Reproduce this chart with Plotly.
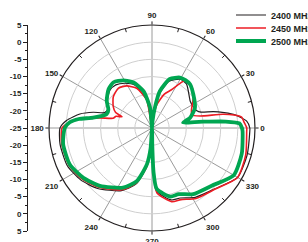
import plotly.graph_objects as go

# ---- data (dB vs angle, degrees) ----
theta_2400 = [0, 4, 9, 12, 15, 18, 21, 28, 35, 45, 52, 60, 70, 78, 84, 90, 100, 112, 121, 130, 138, 149, 157,
              162, 165, 169, 175, 180, 190, 204, 216, 228, 244, 254, 262, 266, 270, 271, 272, 274.4, 285, 292,
              302, 316, 330, 344, 358, 360]
r_2400 = [3.5, 2.7, -0.5, -3.5, -6.5, -10, -11, -11.5, -11.4, -10, -8.7, -8.6, -10.5, -15, -20, -25, -17, -11.5,
          -9.8, -8.6, -8.5, -9.8, -11, -10.5, -7.3, -3.6, 0, 1.8, 2.2, 2, 0.7, -1.3, -4.7, -8, -13.5, -19, -25,
          -20, -12, -6.5, -3.3, -3, -1.2, 0.5, 3.8, 3.8, 3.5, 3.5]

theta_2450 = [0, 4, 7, 9, 11, 14, 18, 25, 37, 46, 55, 63, 70, 78, 84, 90, 100.7, 111, 121, 130, 141, 151, 157,
              159.5, 162, 166, 169, 173, 176, 180, 190, 204, 216, 228, 244, 254, 262, 266, 270, 271, 272, 274.4,
              285, 292, 302, 316, 330, 344, 358, 360]
r_2450 = [2.6, 1.8, 1.3, -0.8, -4, -10.6, -12.8, -12.3, -9.9, -8.3, -8, -12.5, -14.5, -18, -22, -25, -16.7,
          -12.6, -10.7, -9.8, -10.5, -12.1, -13.5, -15.7, -14, -13.3, -9.5, -3.9, -1, 1.2, 1.7, 1.5, 0.2, -1.8,
          -5, -8.3, -13.5, -18, -25, -20, -12, -6, -2.8, -2.5, -0.8, 0.6, 3.8, 3.4, 2.6, 2.6]

theta_2500 = [0, 3, 5, 7, 8, 9.7, 12, 15, 25, 39, 49, 55, 61, 70, 78, 82, 86, 90, 95.6, 103, 112, 121, 130, 138,
              149, 157, 163, 170, 173, 176, 180, 190, 204, 216, 228, 244, 254, 262, 266, 270, 271, 272, 274.4,
              285, 292, 302, 316, 330, 344, 358, 360]
r_2500 = [1.2, 0.5, -3.5, -10, -12.5, -15.8, -15, -13.5, -11.2, -9.5, -8.1, -8, -8.2, -9.8, -14, -19, -23, -25,
          -19, -14, -10.7, -8.8, -7.6, -8, -9.6, -11.2, -11.2, -7.6, -3.5, -1, 0.4, 1.3, 1.2, -0.3, -2.3, -5.7,
          -8.9, -14.3, -19, -25, -20, -12.2, -7.2, -4.3, -4.2, -2.3, -0.8, 2.5, 2.2, 1.4, 1.2]

series_names = ["2400 MHz", "2450 MHz", "2500 MHz"]
series_colors = ["#231f20", "#ed1c24", "#00a651"]
series_widths = [1.2, 1.6, 3.8]

angle_ticks = [0, 30, 60, 90, 120, 150, 180, 210, 240, 270, 300, 330]
angle_minor = [15, 45, 75, 105, 135, 165, 195, 225, 255, 285, 315, 345]
radial_grid = [-20, -15, -10, -5, 0]
r_min, r_max = -25, 5

# left scale: mirrored dB scale across the diameter
left_pos = [-30, -25, -20, -15, -10, -5, 0, 5, 10, 15, 20, 25, 30]
left_labels = ["5", "0", "-5", "-10", "-15", "-20", "-25", "-20", "-15", "-10", "-5", "0", "5"]
left_minor = [-27.5, -22.5, -17.5, -12.5, -7.5, -2.5, 2.5, 7.5, 12.5, 17.5, 22.5, 27.5]

W, H = 308, 242
cx, cy, R = 152, 128, 103
FONT = "Liberation Sans"
legend_rows_y = [15, 28, 41]   # pixel rows of the three legend entries

fig = go.Figure()

# minor angular ticks on the outer circle
mt_r, mt_t = [], []
for a in angle_minor:
    mt_r += [r_max - 1.1, r_max, None]
    mt_t += [a, a, None]
fig.add_trace(go.Scatterpolar(r=mt_r, theta=mt_t, mode="lines", line=dict(color="#231f20", width=1),
                              showlegend=False, hoverinfo="skip"))

legend_ids = ["legend", "legend2", "legend3"]
for th, rr, name, col, w, lg in zip([theta_2400, theta_2450, theta_2500], [r_2400, r_2450, r_2500],
                                    series_names, series_colors, series_widths, legend_ids):
    fig.add_trace(go.Scatterpolar(r=rr, theta=th, mode="lines", name=name, legend=lg,
                                  line=dict(color=col, width=w, shape="spline", smoothing=0.6)))

# dummy trace so the left cartesian scale is drawn
fig.add_trace(go.Scatter(x=[None], y=[None], xaxis="x", yaxis="y", showlegend=False, hoverinfo="skip"))

pdx = [(cx - R) / W, (cx + R) / W]
pdy = [(H - cy - R) / H, (H - cy + R) / H]

leg_common = dict(x=231 / W, xanchor="left", yanchor="middle", bgcolor="rgba(0,0,0,0)",
                  font=dict(family=FONT, size=9, color="#231f20", weight="bold"),
                  itemwidth=30, borderwidth=0)

fig.update_layout(
    width=W, height=H,
    margin=dict(l=0, r=0, t=0, b=0, autoexpand=False),
    paper_bgcolor="white", plot_bgcolor="white",
    font=dict(family=FONT, size=8, color="#231f20"),
    polar=dict(
        domain=dict(x=pdx, y=pdy),
        bgcolor="white",
        radialaxis=dict(range=[r_min, r_max], tickvals=radial_grid, showticklabels=False, ticks="",
                        showline=False, gridcolor="#cfcfcf", gridwidth=1),
        angularaxis=dict(tickmode="array", tickvals=angle_ticks, ticktext=[str(a) for a in angle_ticks],
                         direction="counterclockwise", rotation=0,
                         showline=True, linecolor="#231f20", linewidth=1.2,
                         ticks="outside", ticklen=3, tickcolor="#231f20",
                         gridcolor="#9a9a9a", gridwidth=1,
                         tickfont=dict(family=FONT, size=8, color="#231f20", weight="bold")),
    ),
    xaxis=dict(domain=[28 / W, 40 / W], visible=False, range=[0, 1]),
    yaxis=dict(domain=pdy, range=[-30, 30], tickmode="array", tickvals=left_pos, ticktext=left_labels,
               ticks="outside", ticklen=4, tickcolor="#231f20", showline=True, linecolor="#231f20",
               linewidth=1, showgrid=False, zeroline=False, anchor="x", side="left", automargin=False,
               tickfont=dict(family=FONT, size=8, color="#231f20", weight="bold"),
               minor=dict(tickvals=left_minor, ticks="outside", ticklen=2, tickcolor="#231f20")),
    legend=dict(y=1 - legend_rows_y[0] / H, **leg_common),
    legend2=dict(y=1 - legend_rows_y[1] / H, **leg_common),
    legend3=dict(y=1 - legend_rows_y[2] / H, **leg_common),
    showlegend=True,
)

fig.write_html("out.html", config={"displayModeBar": False},
               post_script="document.body.style.margin='0';document.body.style.overflow='hidden';")
